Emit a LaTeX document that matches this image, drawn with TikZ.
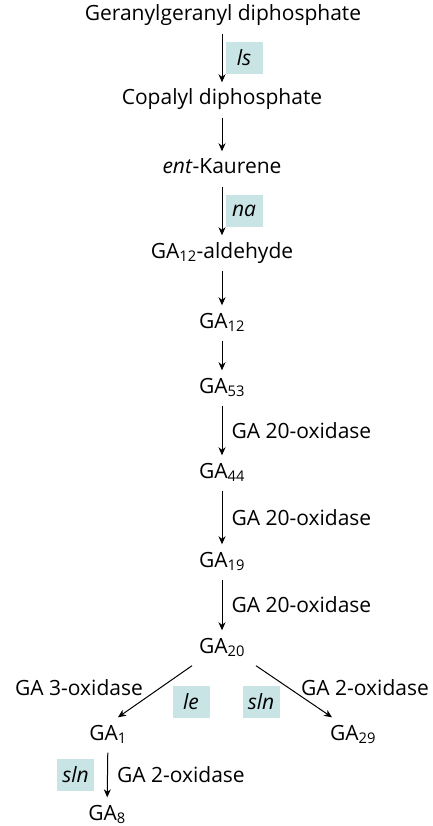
\documentclass[tikz,border=0pt]{standalone}
\usepackage{fontspec}
\setmainfont{Open Sans}
\usetikzlibrary{arrows.meta}
\definecolor{genebg}{RGB}{200,228,228}
\newcommand{\gasub}[1]{GA\textsubscript{#1}}
\tikzset{
  cmpd/.style={font=\fontsize{21}{25}\selectfont, text height=15pt, text depth=5pt,
    inner xsep=0pt, inner ysep=7.5pt},
  enzlabel/.style={font=\fontsize{21}{25}\selectfont, inner sep=0pt},
  genebox/.style={fill=genebg, font=\fontsize{21}{25}\selectfont\itshape,
    minimum width=37pt, minimum height=32pt, inner sep=0pt},
  rxn/.style={-{Stealth[length=8pt,width=7pt,inset=2.5pt]}, line width=1pt}
}
\begin{document}
\begin{tikzpicture}[x=1pt,y=-1pt]
  \useasboundingbox (0,0) rectangle (432,826);
  % --- Main chain ---
  \node[cmpd] (ggpp) at (223,16)  {Geranylgeranyl diphosphate};
  \node[cmpd] (cpp)  at (222,100) {Copalyl diphosphate};
  \node[cmpd] (kaur) at (222,169) {\textit{ent}-Kaurene};
  \node[cmpd] (ald)  at (222,253) {\gasub{12}-aldehyde};
  \node[cmpd] (ga12) at (222,323) {\gasub{12}};
  \node[cmpd] (ga53) at (222,388) {\gasub{53}};
  \node[cmpd] (ga44) at (222,473) {\gasub{44}};
  \node[cmpd] (ga19) at (222,562) {\gasub{19}};
  \node[cmpd] (ga20) at (222,648) {\gasub{20}};
  % --- Branches ---
  \node[cmpd] (ga1)  at (108,735) {\gasub{1}};
  \node[cmpd] (ga29) at (353,735) {\gasub{29}};
  \node[cmpd] (ga8)  at (107,815) {\gasub{8}};
  % Steps
  \draw[rxn] (ggpp.south -| cpp) -- node[genebox, right=3pt] {ls} (cpp);
  \draw[rxn] (cpp) -- (kaur);
  \draw[rxn] (kaur) -- node[genebox, right=3pt] {na} (ald);
  \draw[rxn] (ald) -- (ga12);
  \draw[rxn] (ga12) -- (ga53);
  \draw[rxn] (ga53) -- node[enzlabel, right=9pt] {GA 20-oxidase} (ga44);
  \draw[rxn] (ga44) -- node[enzlabel, right=9pt] {GA 20-oxidase} (ga19);
  \draw[rxn] (ga19) -- node[enzlabel, right=9pt] {GA 20-oxidase} (ga20);
  \draw[rxn] ([xshift=-30pt]ga20.south) -- ([xshift=10pt]ga1.north);
  \draw[rxn] ([xshift=34pt]ga20.south) -- ([xshift=-21pt]ga29.north);
  \draw[rxn] (ga1) -- node[enzlabel, right=9pt] {GA 2-oxidase}
    node[genebox, left=13pt] {sln} (ga8);
  % Enzymes and genes on the branches
  \node[enzlabel] (ox3)  at (79,688)  {GA 3-oxidase};
  \node[enzlabel] (ox2)  at (365,688) {GA 2-oxidase};
  \node[genebox]  (le)   at (191,702) {le};
  \node[genebox]  (slnr) at (261,702) {sln};
\end{tikzpicture}
\end{document}
